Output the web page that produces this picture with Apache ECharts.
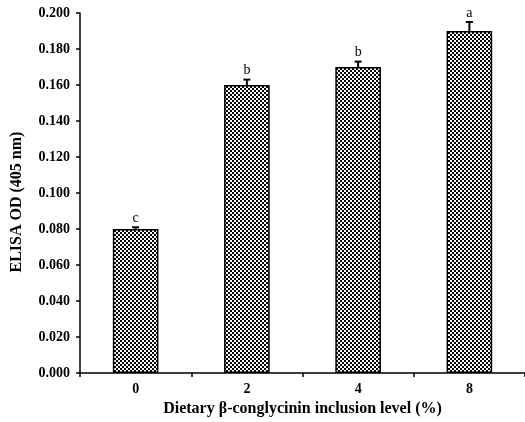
<!DOCTYPE html>
<html>
<head>
<meta charset="utf-8">
<script src="https://cdn.jsdelivr.net/npm/echarts@6/dist/echarts.min.js"></script>
<style>html,body{margin:0;padding:0;background:#fff;}#c{width:525px;height:422px;}</style>
</head>
<body>
<div id="c"></div>
<script>
var categories = ['0', '2', '4', '8'];
var values = [0.080, 0.160, 0.170, 0.190];
var errors = [0.001, 0.003, 0.003, 0.005];
var letters = ['c', 'b', 'b', 'a'];
var yTicks = { min: 0, max: 0.2, interval: 0.02 };

var pc = document.createElement('canvas');
pc.width = 4; pc.height = 4;
var g = pc.getContext('2d');
g.fillStyle = '#fff'; g.fillRect(0, 0, 4, 4);
g.fillStyle = '#000'; g.fillRect(0, 0, 2, 2); g.fillRect(2, 2, 2, 2);

var font = '"Liberation Serif", "Times New Roman", serif';
var chart = echarts.init(document.getElementById('c'));
chart.setOption({
  animation: false,
  backgroundColor: '#fff',
  grid: { left: 80, right: -3, top: 13, bottom: 45, containLabel: false },
  xAxis: {
    type: 'category',
    data: categories,
    name: 'Dietary β-conglycinin inclusion level (%)',
    nameLocation: 'middle',
    nameGap: 24,
    nameTextStyle: { fontFamily: font, fontWeight: 'bold', fontSize: 16, color: '#000' },
    axisLine: { lineStyle: { color: '#000', width: 1.5 } },
    axisTick: { show: true, length: 4, lineStyle: { color: '#000', width: 1.5 } },
    axisLabel: { fontFamily: font, fontWeight: 'bold', fontSize: 14, color: '#000', margin: 9 }
  },
  yAxis: {
    type: 'value',
    min: yTicks.min, max: yTicks.max, interval: yTicks.interval,
    name: 'ELISA OD (405 nm)',
    nameLocation: 'middle',
    nameGap: 55,
    nameTextStyle: { fontFamily: font, fontWeight: 'bold', fontSize: 16, color: '#000', padding: [0, 18, 0, 0] },
    axisLine: { show: true, lineStyle: { color: '#000', width: 1.5 } },
    axisTick: { show: true, length: 4, lineStyle: { color: '#000', width: 1.5 } },
    splitLine: { show: false },
    axisLabel: { fontFamily: font, fontWeight: 'bold', fontSize: 14, color: '#000', margin: 10,
      formatter: function (v) { return v.toFixed(3); } }
  },
  series: [
    {
      type: 'bar',
      data: values,
      barWidth: '41%',
      itemStyle: { color: { image: pc, repeat: 'repeat' }, borderColor: '#000', borderWidth: 1.5 }
    },
    {
      type: 'custom',
      data: values.map(function (v, i) { return [i, v, errors[i], letters[i]]; }),
      renderItem: function (params, api) {
        var i = api.value(0), v = api.value(1), e = api.value(2);
        var p0 = api.coord([i, v]);
        var p1 = api.coord([i, v + e]);
        var hw = 3.5;
        return {
          type: 'group',
          children: [
            { type: 'line', shape: { x1: p0[0], y1: p0[1], x2: p1[0], y2: p1[1] }, style: { stroke: '#000', lineWidth: 2 } },
            { type: 'line', shape: { x1: p1[0] - hw, y1: p1[1], x2: p1[0] + hw, y2: p1[1] }, style: { stroke: '#000', lineWidth: 2 } },
            { type: 'text', style: { text: letters[params.dataIndex], x: p1[0], y: p1[1] - 2, textAlign: 'center', textVerticalAlign: 'bottom', fontFamily: font, fontSize: 14, fill: '#000' } }
          ]
        };
      },
      z: 5
    }
  ]
});
</script>
</body>
</html>
